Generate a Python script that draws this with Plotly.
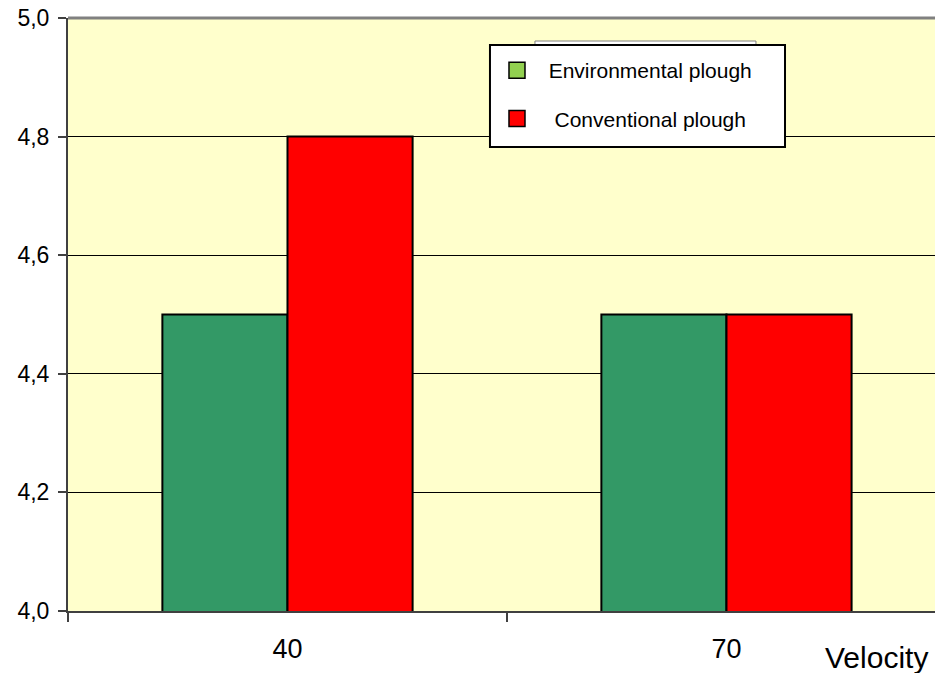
import plotly.graph_objects as go

categories = ["40", "70"]
environmental = [4.5, 4.5]
conventional = [4.8, 4.5]
series_names = ["\u00a0\u00a0Environmental plough", "\u00a0\u00a0\u00a0Conventional plough"]
bar_colors = ["#339966", "#FF0000"]
legend_colors = ["#92D050", "#FF0000"]
y_ticks = [4.0, 4.2, 4.4, 4.6, 4.8, 5.0]

FONT = "Arial, Liberation Sans, sans-serif"

fig = go.Figure()
for vals, col in zip([environmental, conventional], bar_colors):
    fig.add_trace(go.Bar(x=categories, y=vals, marker=dict(color=col, line=dict(color="black", width=2)),
                         showlegend=False))
for i, (name, col) in enumerate(zip(series_names, legend_colors)):
    fig.add_trace(go.Scatter(x=[None], y=[None], mode="markers", name=name, legendgroup=f"g{i}",
                             marker=dict(symbol="square", size=16, color=col, line=dict(color="black", width=1.5))))

fig.update_layout(
    width=935, height=673,
    margin=dict(l=68, r=0, t=18, b=62),
    paper_bgcolor="white", plot_bgcolor="#FFFFCC",
    barmode="group", bargap=0.43, bargroupgap=0,
    separators=",.",
    font=dict(family=FONT, color="black"),
    showlegend=True,
    legend=dict(x=0.4948, y=0.946, xanchor="left", yanchor="top",
                bgcolor="rgba(0,0,0,0)", borderwidth=0,
                font=dict(size=21, family=FONT), itemsizing="trace",
                traceorder="grouped", tracegroupgap=18),
    xaxis=dict(type="category", range=[-0.5, 1.475], tickson="boundaries", ticks="outside", ticklen=9,
               tickcolor="#404040", tickwidth=2, showline=True, linecolor="#404040", linewidth=2,
               showgrid=False, tickfont=dict(size=27), ticklabelstandoff=13),
    yaxis=dict(range=[4.0, 5.0], tickvals=y_ticks, tickformat=".1f", ticks="outside", ticklen=8,
               tickcolor="#404040", tickwidth=2, showline=True, linecolor="#404040", linewidth=2,
               showgrid=True, gridcolor="black", gridwidth=1, zeroline=False,
               tickfont=dict(size=23), ticklabelstandoff=4),
    shapes=[
        dict(type="line", xref="paper", yref="paper", x0=0, x1=1, y0=1, y1=1,
             line=dict(color="#808080", width=3)),
        dict(type="rect", xref="paper", yref="paper", x0=0.5386, x1=0.7935, y0=0.94, y1=0.9612,
             fillcolor="white", line=dict(color="#808080", width=1)),
        dict(type="rect", xref="paper", yref="paper", x0=0.4867, x1=0.827, y0=0.7825, y1=0.9545,
             fillcolor="white", line=dict(color="black", width=2)),
    ],
    annotations=[dict(text="Velocity", xref="paper", yref="paper", x=1, y=0, xanchor="right", yanchor="top",
                      xshift=-5, yshift=-28, showarrow=False, font=dict(size=30, family=FONT))],
)

fig.write_html("out.html", config={"displayModeBar": False},
               post_script="document.body.style.margin='0';")
